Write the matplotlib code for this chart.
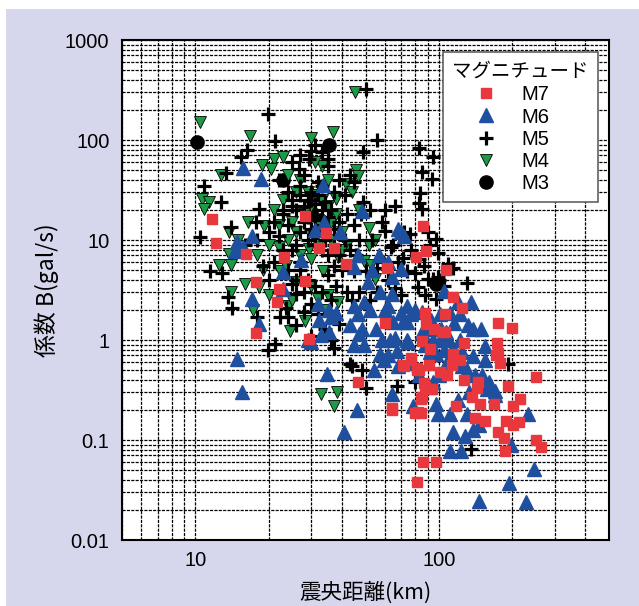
import matplotlib
matplotlib.use('Agg')
import matplotlib.pyplot as plt
from matplotlib.patches import Rectangle
from matplotlib.ticker import FixedLocator, NullFormatter, LogLocator, FixedFormatter

# ---------------- data (epicentral distance km, coefficient B gal/s) ----------------
m7_x = [11.7, 12.2, 16.2, 17.8, 17.8, 21.6, 22, 23.1, 28.1, 28.1, 29.4, 32.2, 34.5, 37.2, 41.5,
        46.6, 60.1, 61.1, 64.4, 71.9, 77.1, 80.8, 81, 85.9, 88.3, 84.8, 80, 84.8, 86, 97, 81.7,
        88, 93, 87.5, 89, 85, 92, 96, 103, 106, 107, 106, 114, 124, 101, 108, 114, 122, 113,
        127, 118, 127, 137, 143, 145, 147, 141, 155, 168, 175, 200, 173, 175, 171, 179, 192,
        202, 216, 188, 202, 214, 175, 185, 187, 250, 250, 262, 77, 71, 81, 83, 91, 87, 94, 85,
        64, 82]
m7_y = [16.3, 9.3, 7.3, 3.8, 1.18, 2.4, 3.2, 6.7, 17.5, 3.9, 1.03, 8.4, 11.7, 8.3, 5.8,
        0.38, 1.48, 5.2, 0.2, 0.55, 0.63, 6.7, 0.5, 13.7, 7.7, 0.26, 0.185, 0.185, 0.06, 0.06, 0.038,
        0.34, 0.32, 1.86, 1.45, 0.98, 0.81, 1.29, 1.2, 1.2, 5.0, 1.8, 2.7, 2.1, 0.48, 0.45, 0.72, 0.63, 0.56,
        0.93, 0.22, 0.4, 0.27, 0.33, 0.38, 0.23, 0.167, 0.155, 0.23, 1.48, 1.32, 0.93, 0.74, 0.71, 0.59, 0.35,
        0.22, 0.26, 0.155, 0.14, 0.15, 0.12, 0.105, 0.078, 0.43, 0.1, 0.085, 0.66, 0.56, 0.53, 0.5, 0.56, 0.37, 0.32, 0.27,
        0.21, 0.19]

m6_x = [15.7, 18.7, 33.5, 31, 33.9, 39.2, 48.4, 17.1, 14.8, 14.6, 15.7, 17.1, 18.3, 14.9, 15.5,
        22.9, 27.1, 23, 32, 32.2, 35.4, 36, 38, 32.9, 35.4, 34.8, 40.7, 46, 46.6, 44.8, 56.6, 53.3,
        51.3, 57.5, 44.8, 49.4, 46.6, 52.4, 48.4, 49.4, 54, 57.5, 59.6, 58.5, 63, 67.3, 64.4, 68, 72,
        70, 70, 64.4, 61.7, 70, 74, 77, 71, 74, 80, 74, 66, 78.6, 77, 97, 99, 105, 120, 135, 93, 101,
        111, 116, 122, 132, 138, 149, 101, 109, 105, 97, 114, 122, 155, 138, 155, 124, 130, 141, 152,
        158, 170, 111, 130, 114, 128, 138, 111, 123, 146, 198, 233, 245, 194, 146, 229,
        43, 47, 88, 92, 85, 118, 125, 108, 150, 160, 170, 100, 95, 120, 133, 83, 60, 65, 85, 90,
        29, 30, 62, 68, 55, 45, 64, 62, 75, 102, 107, 95]
m6_y = [53, 41, 35.5, 12.5, 15, 12, 19.5, 11, 9.6, 7.7, 8.5, 2.6, 1.44, 0.65, 0.30,
        4.8, 6.3, 3.2, 2.3, 1.6, 2.0, 1.7, 1.85, 1.12, 1.2, 0.46, 0.119, 0.2, 7, 5.4, 7, 5,
        3.8, 3.0, 2.2, 2.4, 1.8, 2.0, 1.3, 0.9, 0.5, 0.73, 0.63, 1.0, 1.0, 0.78, 0.29, 13, 11,
        12, 5.1, 2.9, 2.2, 1.85, 1.5, 1.8, 1.5, 2.2, 2.0, 1.0, 1.05, 0.22, 0.59, 0.23, 0.18, 3.1, 2.4, 2.4, 1.6, 1.8,
        1.85, 1.48, 1.8, 1.4, 1.29, 1.29, 1.0, 1.0, 0.8, 0.72, 0.83, 1.0, 0.87, 0.69, 0.63, 0.55, 0.5, 0.45, 0.37,
        0.32, 0.31, 0.18, 0.18, 0.12, 0.11, 0.125, 0.078, 0.078, 0.14, 0.089, 0.18, 0.051, 0.037, 0.0246, 0.024,
        1.4, 1.15, 0.9, 0.75, 1.2, 0.65, 0.75, 0.6, 0.45, 0.38, 0.28, 0.45, 0.38, 0.25, 0.3, 0.45, 2.0, 1.5, 1.9, 1.3,
        1.0, 0.95, 0.7, 0.55, 1.3, 0.9, 4.3, 6, 0.95, 1.3, 1.2, 1.0]

m5_x = [50.4, 19.9, 56, 21.3, 83, 94.5, 85, 93.5, 84, 83, 85, 49, 31, 33, 16.3, 15.4, 13.4, 10.9,
        12.7, 10.5, 14, 18.2, 17.7, 11.5, 12.9, 13.6, 14.2, 17.9, 19.9, 21.3, 25, 26, 23.6, 22.2, 24,
        26.6, 25, 29.3, 30, 66, 49, 52.4, 58.5, 60, 63.5, 76, 90, 97, 99, 71, 74, 80, 90, 95, 99, 109,
        114, 130, 88, 97, 82, 66, 70, 43, 45.5, 44.8, 50.4, 55.5, 39, 37, 43, 44, 48.4, 50.4, 67.3, 80,
        192, 135,
        22, 24, 27, 29, 31, 33, 35, 28, 30, 34, 26, 23, 21, 19, 20, 22, 27, 29, 31, 33, 35, 37, 39, 41,
        37, 39, 42, 45, 47, 40, 30, 28, 32, 34, 26, 30, 36, 33, 28, 35, 39, 41, 23, 25, 20, 18, 16, 22,
        24, 37, 45, 43, 59, 62, 56, 47, 52, 60, 65, 68, 100, 105, 87, 92, 77, 83, 72, 35, 27, 48, 53,
        26, 28, 30, 32, 34, 36, 29, 31, 33, 27, 29, 31, 33, 35, 37, 25, 27, 24, 26, 28, 38, 36, 42, 44,
        30, 27, 32, 25, 23, 21]
m5_y = [323, 181, 100, 97, 83, 68, 48, 41, 29.5, 23.5, 20.4, 76, 90, 75, 79, 68, 47, 35,
        24, 10.7, 13.4, 20.4, 15, 4.9, 4.7, 2.7, 2.1, 1.7, 0.8, 0.92, 3.6, 2.9, 2.1, 1.7, 1.7,
        51, 60, 65, 77, 22, 24, 19.8, 15, 12.3, 8.6, 11.4, 12, 10.2, 7.4, 6.6, 4.9, 4.7, 4.1, 4.1, 4.3, 5.8,
        5.2, 3.7, 2.8, 2.6, 3.4, 3.3, 2.8, 8, 7, 4.9, 4.9, 5.2, 1.45, 0.83, 0.57, 0.55, 0.5, 0.33, 0.35, 0.38,
        0.58, 0.081,
        40, 30, 28, 25, 23, 20, 17, 15, 13, 10, 9, 8, 6, 5.5, 4, 3, 5, 4, 3.5, 3, 4.5, 5.5, 7, 10,
        13, 15, 18, 14, 10, 5, 2.3, 1.9, 1.8, 1.3, 1.4, 1.1, 1.0, 35, 45, 55, 40, 28, 18, 22, 12, 10, 9, 11,
        14, 30, 38, 45, 6, 4, 3, 3, 2.5, 20, 9, 6, 4, 3.5, 5.5, 9, 8, 6.5, 12, 65, 70, 18, 10,
        20, 22, 25, 28, 24, 20, 17, 16, 14, 12, 10, 9, 8, 7, 9, 8, 6, 5, 4, 3, 3.5, 2.5, 3, 2.5,
        30, 35, 38, 25, 20, 15]

m4_x = [10.5, 16.8, 29.8, 36.6, 45.4, 12.7, 10.7, 11.4, 10.9, 21, 23, 20.5, 18.8, 13.7, 16.4, 19.1,
        13.7, 12.5, 14, 14, 17.3, 18.2, 24.6, 28.1, 32.9, 38.1, 37.2, 45.7, 46.5, 37.7, 41.5, 51.5,
        54.5, 51.5, 49.5, 52.5, 54.5, 33.4, 38.6, 29.3, 22.3, 23.6, 34, 35, 38.6,
        27, 29, 31, 33, 35, 30, 28, 32, 34, 36, 26, 24, 22, 20, 18, 21, 23, 25, 27, 30, 32, 36, 38,
        40, 42, 26, 30, 32, 24, 20, 25, 35, 33, 31, 24, 26, 22, 19, 16, 15, 44, 47, 40]
m4_y = [151, 109, 104, 119, 300, 45, 25.5, 24, 20.4, 64, 68, 50.7, 56, 12, 15, 13.7,
        7.3, 5.6, 5.6, 3.0, 2.0, 3.4, 1.24, 1.55, 0.29, 0.30, 0.22, 50, 43.5, 25.5, 36.5, 13.1,
        10, 8.9, 6.1, 5.6, 4.1, 4.9, 6.7, 8.2, 4.9, 5.5, 2.0, 2.8, 2.4,
        40, 30, 28, 25, 22, 22, 18, 14, 12, 10, 12, 10, 8.5, 9, 7, 20, 25, 15, 7, 6.5, 9, 15, 18,
        12, 9, 3.8, 3.5, 2.6, 2.2, 2.8, 2.5, 40, 55, 60, 45, 30, 14, 5, 3.6, 10, 30, 20, 8]

m3_x = [10.2, 23, 35.5, 30, 32.5, 31, 97]
m3_y = [95, 40, 89, 19, 16, 12, 3.6]

series_labels = ['M7', 'M6', 'M5', 'M4', 'M3']
legend_title = 'マグニチュード'
x_label = '震央距離(km)'
y_label = '係数 B(gal/s)'
x_ticks = [10, 100]
x_ticklabels = ['10', '100']
y_ticks = [0.01, 0.1, 1, 10, 100, 1000]
y_ticklabels = ['0.01', '0.1', '1', '10', '100', '1000']

# ---------------- figure ----------------
W, H = 639, 606
fig = plt.figure(figsize=(W / 100, H / 100), dpi=100, facecolor='white')
fig.patches.append(Rectangle((6 / W, 0), 1, (H - 9) / H, transform=fig.transFigure,
                             facecolor='#d6d7ec', edgecolor='none', zorder=-10))

ax = fig.add_axes([122 / W, (H - 540) / H, 487 / W, 500 / H])
ax.set_facecolor('white')
ax.set_xscale('log')
ax.set_yscale('log')
ax.set_xlim(5, 500)
ax.set_ylim(0.01, 1000)

ax.xaxis.set_major_locator(FixedLocator(x_ticks))
ax.xaxis.set_major_formatter(FixedFormatter(x_ticklabels))
ax.yaxis.set_major_locator(FixedLocator(y_ticks))
ax.yaxis.set_major_formatter(FixedFormatter(y_ticklabels))
ax.xaxis.set_minor_locator(LogLocator(base=10, subs=range(2, 10), numticks=20))
ax.yaxis.set_minor_locator(LogLocator(base=10, subs=range(2, 10), numticks=20))
ax.xaxis.set_minor_formatter(NullFormatter())
ax.yaxis.set_minor_formatter(NullFormatter())

ax.grid(which='both', color='black', linestyle=(0, (2.5, 1.0)), linewidth=0.9, zorder=0)
ax.set_axisbelow(True)
ax.tick_params(which='both', length=0)
ax.tick_params(axis='x', pad=8)
ax.tick_params(axis='y', pad=9)
for lab in ax.get_xticklabels() + ax.get_yticklabels():
    lab.set_fontfamily(['Liberation Sans', 'DejaVu Sans'])
    lab.set_fontsize(14.5)
for s in ax.spines.values():
    s.set_linewidth(1.5)
    s.set_color('black')

cjk = ['Noto Sans CJK JP', 'DejaVu Sans']

h3, = ax.plot(m3_x, m3_y, ls='none', marker='o', ms=9.5, mfc='black', mec='black', zorder=3)
h4, = ax.plot(m4_x, m4_y, ls='none', marker='v', ms=8, mfc='#1d9a46', mec='black', mew=0.6, zorder=3)
h5, = ax.plot(m5_x, m5_y, ls='none', marker='+', ms=10, mec='black', mew=2.3, zorder=3)
h6, = ax.plot(m6_x, m6_y, ls='none', marker='^', ms=9.5, mfc='#1f4f9f', mec='#1f4f9f', zorder=3)
h7, = ax.plot(m7_x, m7_y, ls='none', marker='s', ms=6.6, mfc='#e8383d', mec='#e8383d', zorder=3)

leg = ax.legend([h7, h6, h5, h4, h3], series_labels, title=legend_title,
                loc='upper right', bbox_to_anchor=(0.977, 0.976),
                prop={'family': ['Liberation Sans', 'DejaVu Sans'], 'size': 14.5},
                title_fontproperties={'family': cjk, 'size': 14},
                frameon=True, fancybox=False, edgecolor='#555555', framealpha=1,
                borderpad=0.45, labelspacing=0.16, handletextpad=0.05, handlelength=3.4,
                borderaxespad=0, alignment='left')
leg.get_frame().set_linewidth(1.1)
leg.set_zorder(10)

ax.set_xlabel(x_label, family=cjk, fontsize=15.5, labelpad=8)
ax.set_ylabel(y_label, family=cjk, fontsize=16.5, labelpad=4)

fig.savefig('out.png', dpi=100, facecolor=fig.get_facecolor())
